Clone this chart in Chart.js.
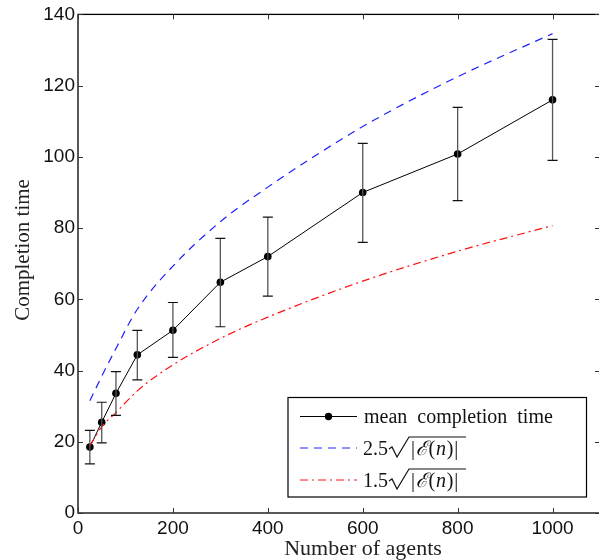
<!DOCTYPE html>
<html>
<head>
<meta charset="utf-8">
<script src="https://cdn.jsdelivr.net/npm/chart.js@4.4.0/dist/chart.umd.min.js"></script>
<style>
  html, body { margin: 0; padding: 0; background: #fff; overflow: hidden; }
  #wrap { width: 604px; height: 560px; }
</style>
</head>
<body>
<div id="wrap"><canvas id="grafico" width="604" height="560"></canvas></div>
<script>
// dados
const agentes = [25, 50, 80, 125, 200, 300, 400, 600, 800, 1000];
const tempoMedio = [18.5, 25.5, 33.6, 44.4, 51.3, 64.8, 72.0, 90.0, 100.8, 116.0];
const erroSup = [23.2, 31.1, 39.7, 51.3, 59.1, 77.1, 83.1, 103.8, 113.9, 133.0];
const erroInf = [13.8, 19.7, 27.4, 37.4, 43.7, 52.3, 60.9, 76.0, 87.7, 99.0];
const curva25 = [31.5, 38.4, 46.2, 57.2, 69.3, 81.8, 91.5, 108.5, 122.5, 134.6];
const curva15 = [18.9, 24.2, 28.2, 34.3, 41.6, 49.0, 55.0, 65.1, 73.5, 80.7];
const ticksX = [0, 200, 400, 600, 800, 1000];
const ticksY = [0, 20, 40, 60, 80, 100, 120, 140];

const serif = '"Liberation Serif", "Times New Roman", serif';
const sans = '"Liberation Sans", Arial, sans-serif';

function pares(ys) {
    return agentes.map((x, i) => ({ x: x, y: ys[i] }));
}

// moldura, ticks para dentro, barras de erro, legenda e titulos
const extras = {
    id: 'extras',
    afterDatasetsDraw(chart) {
        const ctx = chart.ctx;
        const xs = chart.scales.x, ys = chart.scales.y;
        ctx.save();
        // barras de erro
        agentes.forEach((a, i) => {
            const px = xs.getPixelForValue(a);
            const top = ys.getPixelForValue(erroSup[i]);
            const bot = ys.getPixelForValue(erroInf[i]);
            ctx.strokeStyle = '#555';
            ctx.lineWidth = 1.3;
            ctx.beginPath();
            ctx.moveTo(px, top); ctx.lineTo(px, bot);
            ctx.stroke();
            ctx.strokeStyle = '#111';
            ctx.lineWidth = 1.2;
            ctx.beginPath();
            ctx.moveTo(px - 5, top); ctx.lineTo(px + 5, top);
            ctx.moveTo(px - 5, bot); ctx.lineTo(px + 5, bot);
            ctx.stroke();
        });
        ctx.restore();
    },
    afterDraw(chart) {
        const ctx = chart.ctx;
        const a = chart.chartArea;
        const xs = chart.scales.x, ys = chart.scales.y;
        ctx.save();
        ctx.strokeStyle = '#000';
        ctx.lineWidth = 1.3;
        ctx.strokeRect(a.left, a.top, a.right - a.left, a.bottom - a.top);
        ctx.lineWidth = 1;
        ctx.strokeStyle = '#333';
        ctx.beginPath();
        ticksX.forEach(v => {
            const p = Math.round(xs.getPixelForValue(v)) + 0.5;
            ctx.moveTo(p, a.bottom); ctx.lineTo(p, a.bottom - 5);
            ctx.moveTo(p, a.top); ctx.lineTo(p, a.top + 5);
        });
        ticksY.forEach(v => {
            const p = Math.round(ys.getPixelForValue(v)) + 0.5;
            ctx.moveTo(a.left, p); ctx.lineTo(a.left + 5, p);
            ctx.moveTo(a.right, p); ctx.lineTo(a.right - 5, p);
        });
        ctx.stroke();

        // titulos dos eixos
        ctx.fillStyle = '#222';
        ctx.font = '22px ' + serif;
        ctx.textAlign = 'center';
        ctx.textBaseline = 'alphabetic';
        ctx.fillText('Number of agents', 363, 555);
        ctx.save();
        ctx.translate(29, 250);
        ctx.rotate(-Math.PI / 2);
        ctx.font = '21px ' + serif;
        ctx.fillText('Completion time', 0, 0);
        ctx.restore();

        // legenda
        const L = 288, T = 397.5, R = 586.5, B = 497;
        ctx.fillStyle = '#fff';
        ctx.fillRect(L, T, R - L, B - T);
        ctx.strokeStyle = '#000';
        ctx.lineWidth = 1.2;
        ctx.strokeRect(L, T, R - L, B - T);
        const linhas = [416.5, 448, 480];
        // entrada 1
        ctx.strokeStyle = '#000';
        ctx.lineWidth = 1;
        ctx.setLineDash([]);
        ctx.beginPath(); ctx.moveTo(300, linhas[0]); ctx.lineTo(357, linhas[0]); ctx.stroke();
        ctx.fillStyle = '#000';
        ctx.beginPath(); ctx.arc(328.5, linhas[0], 3.7, 0, Math.PI * 2); ctx.fill();
        // entrada 2
        ctx.strokeStyle = '#2020ff';
        ctx.setLineDash([8, 6]);
        ctx.beginPath(); ctx.moveTo(300, linhas[1]); ctx.lineTo(357, linhas[1]); ctx.stroke();
        // entrada 3
        ctx.strokeStyle = '#ff1010';
        ctx.setLineDash([8, 4, 2, 4]);
        ctx.beginPath(); ctx.moveTo(300, linhas[2]); ctx.lineTo(357, linhas[2]); ctx.stroke();
        ctx.setLineDash([]);

        ctx.fillStyle = '#111';
        ctx.textAlign = 'left';
        ctx.textBaseline = 'alphabetic';
        ctx.font = '20px ' + serif;
        ctx.fillText('mean  completion  time', 364, linhas[0] + 6);
        ['2.5', '1.5'].forEach((coef, k) => {
            const y = linhas[k + 1];
            const base = y + 7;
            let x = 363;
            ctx.font = '20px ' + serif;
            ctx.fillText(coef, x, base);
            x += ctx.measureText(coef).width + 1;
            // radical
            ctx.strokeStyle = '#111';
            ctx.lineWidth = 1.2;
            ctx.beginPath();
            ctx.moveTo(x, y + 1);
            ctx.lineTo(x + 3, y - 1);
            ctx.lineTo(x + 8, y + 9);
            ctx.lineTo(x + 20, y - 11);
            ctx.lineTo(x + 77, y - 11);
            ctx.stroke();
            x += 22;
            const partes = [['|', ''], ['\u2130', 'italic '], ['(', ''], ['n', 'italic '], [')', ''], ['|', '']];
            partes.forEach(p => {
                ctx.font = p[1] + '20px ' + serif;
                ctx.fillText(p[0], x, base);
                x += ctx.measureText(p[0]).width + 0.8;
            });
        });
        ctx.restore();
    }
};

const ctx = document.getElementById('grafico').getContext('2d');
const myChart = new Chart(ctx, {
    type: 'line',
    data: {
        datasets: [
            {
                label: '1.5 sqrt|E(n)|',
                data: pares(curva15),
                borderColor: '#ff1010',
                borderWidth: 1.2,
                borderDash: [8, 4, 2, 4],
                pointRadius: 0,
                cubicInterpolationMode: 'monotone'
            },
            {
                label: '2.5 sqrt|E(n)|',
                data: pares(curva25),
                borderColor: '#2020ff',
                borderWidth: 1.2,
                borderDash: [8, 6],
                pointRadius: 0,
                cubicInterpolationMode: 'monotone'
            },
            {
                label: 'mean completion time',
                data: pares(tempoMedio),
                borderColor: '#000',
                backgroundColor: '#000',
                borderWidth: 1,
                pointRadius: 3.8,
                pointBorderWidth: 0,
                tension: 0
            }
        ]
    },
    options: {
        responsive: false,
        animation: false,
        layout: { padding: { left: 0, top: 13, right: 3.5, bottom: 0 } },
        plugins: { legend: { display: false }, tooltip: { enabled: false } },
        scales: {
            x: {
                type: 'linear',
                min: 0,
                max: 1100,
                afterBuildTicks: (s) => { s.ticks = ticksX.map(v => ({ value: v })); },
                afterFit: (s) => { s.height = 47; },
                grid: { display: false, drawTicks: false },
                border: { display: false },
                ticks: { color: '#111', font: { family: sans, size: 19 }, padding: 4, maxRotation: 0,
                         callback: (v) => String(v) }
            },
            y: {
                type: 'linear',
                min: 0,
                max: 140,
                afterBuildTicks: (s) => { s.ticks = ticksY.map(v => ({ value: v })); },
                afterFit: (s) => { s.width = 78; },
                grid: { display: false, drawTicks: false },
                border: { display: false },
                ticks: { color: '#111', font: { family: sans, size: 19 }, padding: 3,
                         callback: (v) => String(v) }
            }
        }
    },
    plugins: [extras]
});
</script>
</body>
</html>
